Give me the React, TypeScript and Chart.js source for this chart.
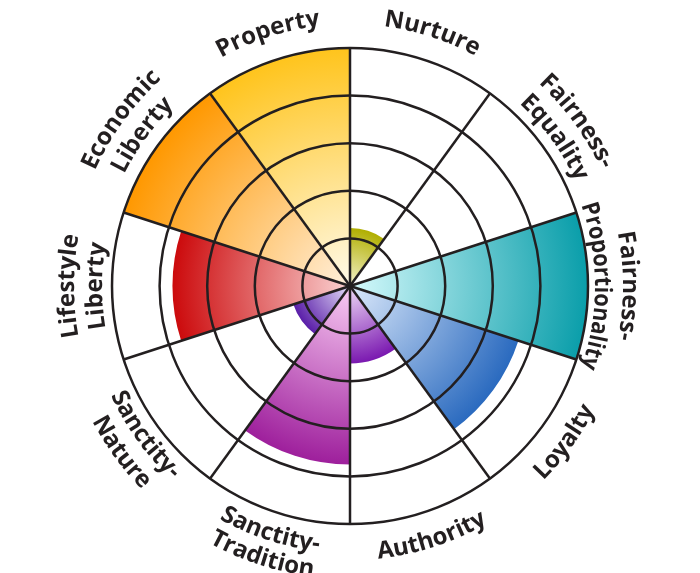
import React, { useEffect, useRef } from 'react';
import { Chart, registerables } from 'chart.js';

Chart.register(...registerables);

// ---- data ----
const categories = [
  'Nurture',
  'Fairness-Equality',
  'Fairness-Proportionality',
  'Loyalty',
  'Authority',
  'Sanctity-Tradition',
  'Sanctity-Nature',
  'Lifestyle Liberty',
  'Economic Liberty',
  'Property',
];

const labelLines = [
  ['Nurture'],
  ['Fairness-', 'Equality'],
  ['Fairness-', 'Proportionality'],
  ['Loyalty'],
  ['Authority'],
  ['Sanctity-', 'Tradition'],
  ['Sanctity-', 'Nature'],
  ['Lifestyle', 'Liberty'],
  ['Economic', 'Liberty'],
  ['Property'],
];

const scores = [1.22, 0, 5, 3.72, 1.63, 3.75, 1.25, 3.73, 5, 5];

const ringValues = [0, 1, 2, 3, 4, 5];

const innerColors = [
  '#f4f2cc', '#ffffff', '#d6fafc', '#dce9fb', '#f0dcf8',
  '#f9ccf4', '#e6e0fa', '#fad2d2', '#fff0dc', '#fffaea',
];
const outerColors = [
  '#b0ae00', '#ffffff', '#0a9eaa', '#2a6abf', '#7a18b0',
  '#9e1f9c', '#5a1ea8', '#cc0a0c', '#ff9800', '#ffc41c',
];

// ---- label layout (baseline radius, line gap, side, horizontal squeeze) ----
const labelLayout = [
  { r: 262, gap: 28, top: true, squeeze: 1 },
  { r: 249, gap: 28, top: true, squeeze: 1 },
  { r: 245, gap: 28, top: true, squeeze: 0.9 },
  { r: 274, gap: 28, top: false, squeeze: 1 },
  { r: 274, gap: 28, top: false, squeeze: 1 },
  { r: 267, gap: 26, top: false, squeeze: 1 },
  { r: 263, gap: 28, top: false, squeeze: 1 },
  { r: 248, gap: 28, top: true, squeeze: 1 },
  { r: 252, gap: 28, top: true, squeeze: 1 },
  { r: 262, gap: 28, top: true, squeeze: 1 },
];

const LABEL_FONT = 'bold 24px "Open Sans"';
const INK = '#231f20';

function drawArcText(
  ctx: CanvasRenderingContext2D,
  text: string,
  cx: number,
  cy: number,
  r: number,
  center: number,
  top: boolean,
  squeeze: number
) {
  const total = ctx.measureText(text).width * squeeze;
  const span = total / r;
  for (let k = 0; k < text.length; k++) {
    const pre = ctx.measureText(text.slice(0, k)).width * squeeze;
    const w = ctx.measureText(text[k]).width * squeeze;
    const off = (pre + w / 2) / r;
    const a = top ? center - span / 2 + off : center + span / 2 - off;
    const x = cx + r * Math.sin(a);
    const y = cy - r * Math.cos(a);
    ctx.save();
    ctx.translate(x, y);
    ctx.rotate(top ? a : a - Math.PI);
    ctx.scale(squeeze, 1);
    ctx.fillText(text[k], 0, 0);
    ctx.restore();
  }
}

const curvedLabels = {
  id: 'curvedLabels',
  afterDraw(chart: any) {
    const scale = chart.scales.r;
    const ctx: CanvasRenderingContext2D = chart.ctx;
    const cx = scale.xCenter;
    const cy = scale.yCenter;
    const n = categories.length;
    ctx.save();
    ctx.font = LABEL_FONT;
    ctx.fillStyle = INK;
    ctx.textAlign = 'center';
    ctx.textBaseline = 'alphabetic';
    for (let i = 0; i < n; i++) {
      const center = ((i + 0.5) * 2 * Math.PI) / n;
      const lay = labelLayout[i];
      const lines = labelLines[i];
      lines.forEach((line, li) => {
        const r = lay.top
          ? lay.r + (lines.length - 1 - li) * lay.gap
          : lay.r + li * lay.gap;
        const sq = li === lines.length - 1 ? lay.squeeze : 1;
        drawArcText(ctx, line, cx, cy, r, center, lay.top, sq);
      });
    }
    ctx.restore();
  },
};

export default function App() {
  const canvasRef = useRef<HTMLCanvasElement | null>(null);

  useEffect(() => {
    const canvas = canvasRef.current;
    if (!canvas) return;
    const chart = new Chart(canvas, {
      type: 'polarArea',
      data: {
        labels: categories,
        datasets: [
          {
            data: scores,
            borderWidth: 0,
            backgroundColor: (c: any) => {
              const i = c.dataIndex;
              const scale = c.chart.scales?.r;
              if (!scale || i === undefined) return outerColors[i ?? 0];
              const radius = scale.getDistanceFromCenterForValue(scores[i]);
              if (!(radius > 0)) return outerColors[i];
              const g = c.chart.ctx.createRadialGradient(
                scale.xCenter, scale.yCenter, 0,
                scale.xCenter, scale.yCenter, radius
              );
              g.addColorStop(0, innerColors[i]);
              g.addColorStop(1, outerColors[i]);
              return g;
            },
          },
        ],
      },
      options: {
        animation: false,
        responsive: true,
        maintainAspectRatio: false,
        layout: { padding: { top: 48, bottom: 49, left: 0, right: 0 } },
        plugins: {
          legend: { display: false },
          tooltip: { enabled: false },
        },
        scales: {
          r: {
            min: 0,
            max: 5,
            startAngle: 0,
            ticks: { display: false, stepSize: 1 },
            afterBuildTicks: (scale: any) => {
              scale.ticks = ringValues.map((v) => ({ value: v }));
            },
            grid: { color: INK, lineWidth: 2.5, circular: true, z: 1 },
            angleLines: { display: true, color: INK, lineWidth: 2.5 },
            pointLabels: { display: false },
          },
        },
      } as any,
      plugins: [curvedLabels],
    });
    return () => chart.destroy();
  }, []);

  return (
    <div style={{ position: 'fixed', left: 0, top: 0, width: 700, height: 573, background: '#fff' }}>
      <canvas ref={canvasRef} />
    </div>
  );
}
